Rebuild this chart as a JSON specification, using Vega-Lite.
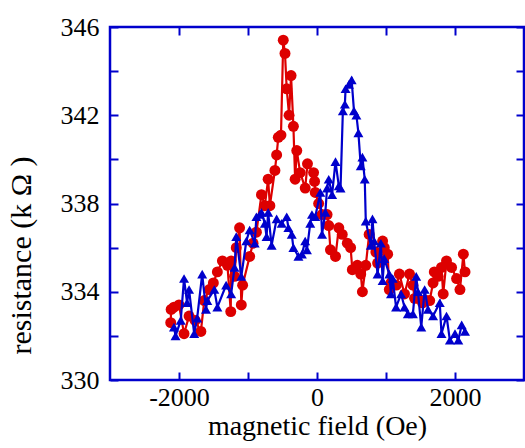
{
  "$schema": "https://vega.github.io/schema/vega-lite/v6.json",
  "width": 414,
  "height": 353,
  "autosize": {"type": "none"},
  "padding": {"left": 110, "top": 27, "right": 1, "bottom": 68},
  "background": "white",
  "config": {
    "view": {"stroke": "#0000cc", "strokeWidth": 2.5},
    "font": "Liberation Serif",
    "axis": {
      "domain": false,
      "grid": false,
      "tickColor": "#0000cc",
      "tickWidth": 2,
      "tickSize": -8,
      "labelFont": "Liberation Serif",
      "labelFontSize": 26,
      "labelColor": "black",
      "titleFont": "Liberation Serif",
      "titleFontSize": 28,
      "titleFontWeight": "normal",
      "titleColor": "black"
    }
  },
  "datasets": {
    "red": [
      {"field": -2120, "r": 332.6}, {"field": -2114, "r": 333.2}, {"field": -2073, "r": 333.3},
      {"field": -2000, "r": 333.4}, {"field": -1927, "r": 332.1}, {"field": -1854, "r": 332.9},
      {"field": -1766, "r": 332.7}, {"field": -1683, "r": 332.2}, {"field": -1634, "r": 333.6},
      {"field": -1561, "r": 334.1}, {"field": -1502, "r": 334.4}, {"field": -1444, "r": 334.9},
      {"field": -1371, "r": 335.4}, {"field": -1298, "r": 335.2}, {"field": -1250, "r": 333.1},
      {"field": -1244, "r": 335.4}, {"field": -1195, "r": 334.7}, {"field": -1170, "r": 336.0},
      {"field": -1122, "r": 336.9}, {"field": -1097, "r": 333.4}, {"field": -1078, "r": 334.3},
      {"field": -976, "r": 335.6}, {"field": -927, "r": 336.2}, {"field": -878, "r": 336.7},
      {"field": -805, "r": 338.4}, {"field": -756, "r": 337.9}, {"field": -708, "r": 339.1},
      {"field": -683, "r": 337.9}, {"field": -610, "r": 339.5}, {"field": -585, "r": 340.2},
      {"field": -561, "r": 341.0}, {"field": -522, "r": 341.1}, {"field": -489, "r": 345.4},
      {"field": -464, "r": 344.8}, {"field": -439, "r": 343.2}, {"field": -405, "r": 342.0},
      {"field": -376, "r": 343.8}, {"field": -342, "r": 341.5}, {"field": -317, "r": 339.1},
      {"field": -293, "r": 340.4}, {"field": -244, "r": 339.4}, {"field": -171, "r": 338.7},
      {"field": -138, "r": 339.8}, {"field": -50, "r": 339.4}, {"field": -35, "r": 339.0},
      {"field": -25, "r": 338.5}, {"field": 24, "r": 338.0}, {"field": 73, "r": 337.5},
      {"field": 146, "r": 337.5}, {"field": 170, "r": 337.0}, {"field": 195, "r": 335.9},
      {"field": 268, "r": 335.6}, {"field": 316, "r": 336.9}, {"field": 366, "r": 336.6},
      {"field": 439, "r": 336.2}, {"field": 487, "r": 336.0}, {"field": 512, "r": 335.0},
      {"field": 585, "r": 335.2}, {"field": 634, "r": 334.8}, {"field": 658, "r": 334.0},
      {"field": 707, "r": 335.2}, {"field": 756, "r": 336.6}, {"field": 853, "r": 335.8},
      {"field": 878, "r": 335.3}, {"field": 926, "r": 335.4}, {"field": 951, "r": 336.3},
      {"field": 975, "r": 336.0}, {"field": 1024, "r": 335.7}, {"field": 1048, "r": 334.1},
      {"field": 1072, "r": 334.4}, {"field": 1150, "r": 334.3}, {"field": 1194, "r": 334.8},
      {"field": 1268, "r": 333.9}, {"field": 1341, "r": 334.8}, {"field": 1390, "r": 334.3},
      {"field": 1414, "r": 333.7}, {"field": 1463, "r": 333.7}, {"field": 1530, "r": 333.5},
      {"field": 1584, "r": 333.6}, {"field": 1633, "r": 333.6}, {"field": 1682, "r": 334.4},
      {"field": 1700, "r": 334.9}, {"field": 1755, "r": 334.7}, {"field": 1804, "r": 335.1},
      {"field": 1829, "r": 333.9}, {"field": 1877, "r": 335.4}, {"field": 1950, "r": 335.1},
      {"field": 2023, "r": 334.6}, {"field": 2072, "r": 334.1}, {"field": 2121, "r": 335.7},
      {"field": 2145, "r": 334.9}
    ],
    "blue": [
      {"field": -2073, "r": 332.4}, {"field": -2050, "r": 332.0}, {"field": -1975, "r": 332.7},
      {"field": -1927, "r": 334.6}, {"field": -1883, "r": 333.5}, {"field": -1854, "r": 334.1},
      {"field": -1780, "r": 332.1}, {"field": -1737, "r": 332.8}, {"field": -1664, "r": 334.8},
      {"field": -1609, "r": 333.2}, {"field": -1590, "r": 333.6}, {"field": -1488, "r": 334.1},
      {"field": -1444, "r": 333.3}, {"field": -1317, "r": 334.3}, {"field": -1244, "r": 333.9},
      {"field": -1195, "r": 335.1}, {"field": -1170, "r": 336.5}, {"field": -1097, "r": 334.7},
      {"field": -1024, "r": 336.3}, {"field": -976, "r": 336.8}, {"field": -903, "r": 336.2},
      {"field": -878, "r": 337.4}, {"field": -829, "r": 337.5}, {"field": -805, "r": 337.6},
      {"field": -756, "r": 337.1}, {"field": -731, "r": 336.5}, {"field": -708, "r": 337.6},
      {"field": -658, "r": 336.1}, {"field": -585, "r": 337.3}, {"field": -512, "r": 337.1},
      {"field": -439, "r": 337.4}, {"field": -415, "r": 336.9}, {"field": -366, "r": 336.6},
      {"field": -342, "r": 336.0}, {"field": -269, "r": 335.6}, {"field": -219, "r": 335.7},
      {"field": -171, "r": 336.3}, {"field": -146, "r": 335.9}, {"field": -98, "r": 337.1},
      {"field": -73, "r": 337.5}, {"field": -25, "r": 337.4}, {"field": 48, "r": 338.5},
      {"field": 73, "r": 336.6}, {"field": 121, "r": 337.6}, {"field": 146, "r": 338.7},
      {"field": 170, "r": 339.1}, {"field": 219, "r": 338.4}, {"field": 268, "r": 339.9},
      {"field": 316, "r": 338.8}, {"field": 341, "r": 338.7}, {"field": 375, "r": 342.2},
      {"field": 404, "r": 342.5}, {"field": 414, "r": 343.2}, {"field": 463, "r": 343.4},
      {"field": 502, "r": 343.6}, {"field": 536, "r": 342.2}, {"field": 571, "r": 342.0},
      {"field": 600, "r": 341.2}, {"field": 634, "r": 339.7}, {"field": 658, "r": 340.1},
      {"field": 692, "r": 339.1}, {"field": 707, "r": 337.2}, {"field": 780, "r": 336.1},
      {"field": 804, "r": 337.3}, {"field": 828, "r": 336.3}, {"field": 878, "r": 334.8},
      {"field": 926, "r": 336.2}, {"field": 951, "r": 334.5}, {"field": 975, "r": 335.5},
      {"field": 1048, "r": 334.8}, {"field": 1072, "r": 333.9}, {"field": 1097, "r": 334.6},
      {"field": 1146, "r": 333.3}, {"field": 1219, "r": 333.9}, {"field": 1268, "r": 333.3},
      {"field": 1317, "r": 333.0}, {"field": 1390, "r": 333.0}, {"field": 1438, "r": 334.7},
      {"field": 1463, "r": 334.0}, {"field": 1511, "r": 332.4}, {"field": 1560, "r": 334.1},
      {"field": 1609, "r": 333.2}, {"field": 1682, "r": 332.9}, {"field": 1779, "r": 333.5},
      {"field": 1804, "r": 332.1}, {"field": 1877, "r": 332.9}, {"field": 1926, "r": 331.8},
      {"field": 2000, "r": 332.1}, {"field": 2048, "r": 331.8}, {"field": 2097, "r": 332.5},
      {"field": 2145, "r": 332.2}
    ]
  },
  "layer": [
    {
      "data": {"name": "red"},
      "mark": {"type": "line", "color": "#dd0000", "strokeWidth": 2.2, "clip": true,
               "point": {"filled": true, "size": 120, "color": "#dd0000", "opacity": 1}},
      "encoding": {
        "x": {"field": "field", "type": "quantitative",
              "scale": {"domain": [-3000, 3000], "nice": false},
              "axis": {"orient": "bottom", "values": [-2000, -1000, 0, 1000, 2000],
                       "labelExpr": "datum.value % 2000 == 0 ? '' + datum.value : ''",
                       "labelPadding": 12, "title": "magnetic field (Oe)", "titlePadding": 2}},
        "y": {"field": "r", "type": "quantitative",
              "scale": {"domain": [330, 346], "nice": false, "zero": false},
              "axis": {"orient": "left", "values": [330, 332, 334, 336, 338, 340, 342, 344, 346],
                       "labelExpr": "(datum.value - 330) % 4 == 0 ? '' + datum.value : ''",
                       "labelPadding": 19, "title": "resistance (k Ω )", "titleFontSize": 30,
                       "titlePadding": 17, "titleY": 228, "titleX": -74, "titleAngle": 270, "titleBaseline": "bottom", "titleAlign": "center"}}
      }
    },
    {
      "data": {"name": "blue"},
      "mark": {"type": "line", "color": "#0000cc", "strokeWidth": 2.2, "clip": true,
               "point": {"filled": true, "size": 100, "shape": "triangle-up", "color": "#0000cc", "opacity": 1}},
      "encoding": {
        "x": {"field": "field", "type": "quantitative",
              "scale": {"domain": [-3000, 3000], "nice": false},
              "axis": {"orient": "top", "values": [-2000, -1000, 0, 1000, 2000], "labels": false, "title": null}},
        "y": {"field": "r", "type": "quantitative",
              "scale": {"domain": [330, 346], "nice": false, "zero": false},
              "axis": {"orient": "right", "values": [330, 332, 334, 336, 338, 340, 342, 344, 346], "labels": false, "title": null}}
      }
    }
  ],
  "resolve": {"axis": {"x": "independent", "y": "independent"}}
}
